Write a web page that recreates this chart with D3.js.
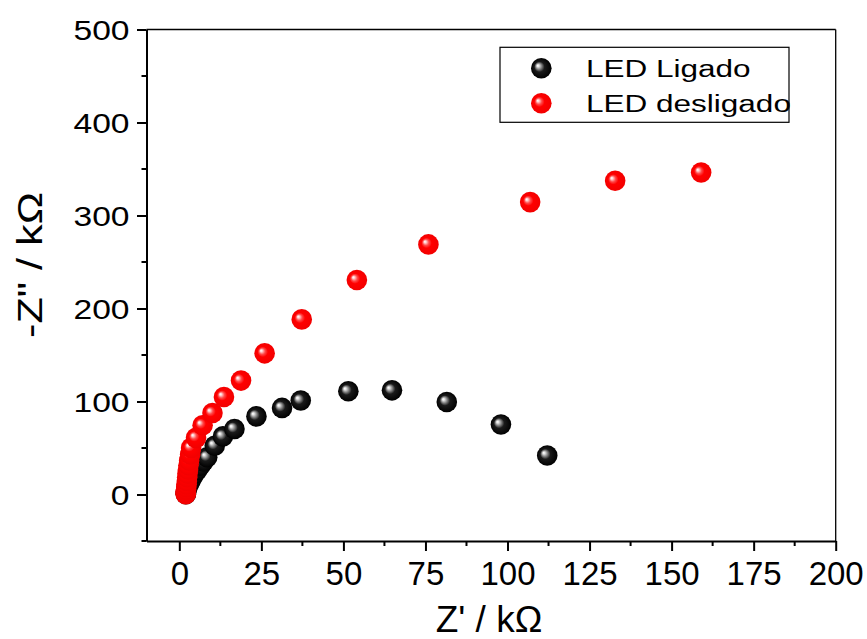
<!DOCTYPE html>
<html>
<head>
<meta charset="utf-8">
<script src="https://cdn.jsdelivr.net/npm/d3@7"></script>
<style>
  body { margin: 0; background: #fff; }
  svg { display: block; }
  text { font-family: "Liberation Sans", Arial, sans-serif; fill: #000; }
</style>
</head>
<body>
<svg id="chart" width="867" height="639"></svg>
<script>
// Nyquist data: Z' (kΩ) and -Z'' (kΩ), from high to low frequency
const ligadoZre   = [2.0, 2.0, 2.0, 2.1, 2.25, 2.5, 2.9, 3.4, 4.0, 4.7, 5.5, 6.4, 7.4, 8.5, 10.8, 13.3, 16.8, 23.5, 31.3, 37.0, 51.5, 64.8, 81.5, 98.0, 112.1];
const ligadoZim   = [0.3, 1.0, 2.0, 3.5, 5.5, 8.0, 11.0, 14.5, 18.5, 22.5, 26.5, 31.0, 35.5, 40.0, 52.5, 62.5, 70.5, 84.0, 93.1, 101.0, 111.0, 112.0, 99.5, 75.2, 41.9];
const desligadoZre = [1.95, 1.95, 1.95, 2.0, 2.05, 2.1, 2.2, 2.3, 2.4, 2.5, 2.65, 2.8, 3.0, 3.3, 3.6, 5.1, 7.1, 10.1, 13.6, 18.8, 26.0, 37.3, 54.1, 75.9, 106.9, 132.8, 159.0];
const desligadoZim = [0.3, 1.0, 2.0, 3.5, 5.5, 8.0, 11.0, 14.5, 18.5, 22.5, 27.0, 31.5, 36.5, 43.0, 50.1, 60.9, 74.5, 87.7, 104.9, 122.5, 151.8, 188.3, 230.6, 268.9, 314.4, 337.3, 346.2];

const seriesNames = ["LED Ligado", "LED desligado"];

const xTicks = [0, 25, 50, 75, 100, 125, 150, 175, 200];
const xMinor = [12.5, 37.5, 62.5, 87.5, 112.5, 137.5, 162.5, 187.5];
const yTicks = [0, 100, 200, 300, 400, 500];
const yMinor = [-50, 50, 150, 250, 350, 450];

const xLabel = "Z' / kΩ";
const yLabel = "-Z\" / kΩ";

const svg = d3.select("#chart");
const plotL = 146.5, plotR = 835.7, plotT = 29.5, plotB = 541;

const x = d3.scaleLinear().domain([-10, 200]).range([plotL, plotR]);
const y = d3.scaleLinear().domain([-50, 500]).range([plotB, plotT]);

// glossy sphere gradients
const defs = svg.append("defs");
function sphere(id, stops) {
  const g = defs.append("radialGradient").attr("id", id)
    .attr("cx", "50%").attr("cy", "50%").attr("r", "50%")
    .attr("fx", "32%").attr("fy", "36%");
  stops.forEach(([o, c]) => g.append("stop").attr("offset", o).attr("stop-color", c));
}
sphere("ball-black", [[0, "#ffffff"], [0.1, "#e8e8e8"], [0.28, "#8a8a8a"], [0.5, "#1a1a1a"], [1, "#000000"]]);
sphere("ball-red", [[0, "#ffffff"], [0.1, "#ffd8d8"], [0.3, "#ff4a4a"], [0.5, "#ff0000"], [1, "#f20000"]]);

// frame (top and right)
svg.append("line").attr("x1", plotL).attr("x2", plotR).attr("y1", plotT).attr("y2", plotT)
  .attr("stroke", "#000").attr("stroke-width", 1.3);
svg.append("line").attr("x1", plotR).attr("x2", plotR).attr("y1", plotT).attr("y2", plotB)
  .attr("stroke", "#000").attr("stroke-width", 1.3);

// x axis
const gx = svg.append("g").attr("transform", `translate(0,${plotB})`)
  .call(d3.axisBottom(x).tickValues(xTicks).tickSize(10).tickSizeOuter(0).tickFormat(d3.format("d")));
gx.append("g").selectAll("line").data(xMinor).join("line")
  .attr("x1", d => x(d)).attr("x2", d => x(d)).attr("y1", 0).attr("y2", 5)
  .attr("stroke", "#000").attr("stroke-width", 2);
gx.selectAll(".tick text")
  .attr("y", null).attr("dy", null)
  .attr("transform", "translate(0,43.5)")
  .style("font-size", "33px").style("font-family", "'Liberation Sans', Arial, sans-serif").attr("fill", "#000");

// y axis
const gy = svg.append("g").attr("transform", `translate(${plotL},0)`)
  .call(d3.axisLeft(y).tickValues(yTicks).tickSize(9.5).tickSizeOuter(0).tickFormat(d3.format("d")));
gy.append("g").selectAll("line").data(yMinor).join("line")
  .attr("y1", d => y(d)).attr("y2", d => y(d)).attr("x1", 0).attr("x2", -5)
  .attr("stroke", "#000").attr("stroke-width", 2);
gy.selectAll(".tick text")
  .attr("x", null).attr("dy", null)
  .attr("transform", "translate(-17,10) scale(1.2,1)")
  .attr("text-anchor", "end")
  .style("font-size", "28px").style("font-family", "'Liberation Sans', Arial, sans-serif").attr("fill", "#000");

[gx, gy].forEach(g => {
  g.select(".domain").attr("stroke-width", 2);
  g.selectAll(".tick line").attr("stroke-width", 2);
});

// axis titles
svg.append("text").attr("x", 489).attr("y", 632).attr("text-anchor", "middle")
  .style("font-size", "37px").text(xLabel);
svg.append("text").attr("transform", "translate(41.5,265) rotate(-90) scale(1.2,1)").attr("text-anchor", "middle")
  .style("font-size", "36px").text(yLabel);

// points
const R = 10.3;
const series = [
  { zre: ligadoZre, zim: ligadoZim, fill: "url(#ball-black)" },
  { zre: desligadoZre, zim: desligadoZim, fill: "url(#ball-red)" }
];
series.forEach(s => {
  svg.append("g").selectAll("circle").data(d3.range(s.zre.length)).join("circle")
    .attr("cx", i => x(s.zre[i])).attr("cy", i => y(s.zim[i])).attr("r", R)
    .attr("fill", s.fill);
});

// legend
const lg = svg.append("g");
lg.append("rect").attr("x", 500).attr("y", 47.3).attr("width", 289).attr("height", 75)
  .attr("fill", "none").attr("stroke", "#000").attr("stroke-width", 1.2);
seriesNames.forEach((name, i) => {
  const cy = 68.3 + i * 35;
  lg.append("circle").attr("cx", 541.3).attr("cy", cy).attr("r", R)
    .attr("fill", series[i].fill);
  lg.append("text").attr("transform", `translate(586,${cy + 8.4}) scale(1.37,1)`)
    .style("font-size", "23px").text(name);
});
</script>
</body>
</html>
